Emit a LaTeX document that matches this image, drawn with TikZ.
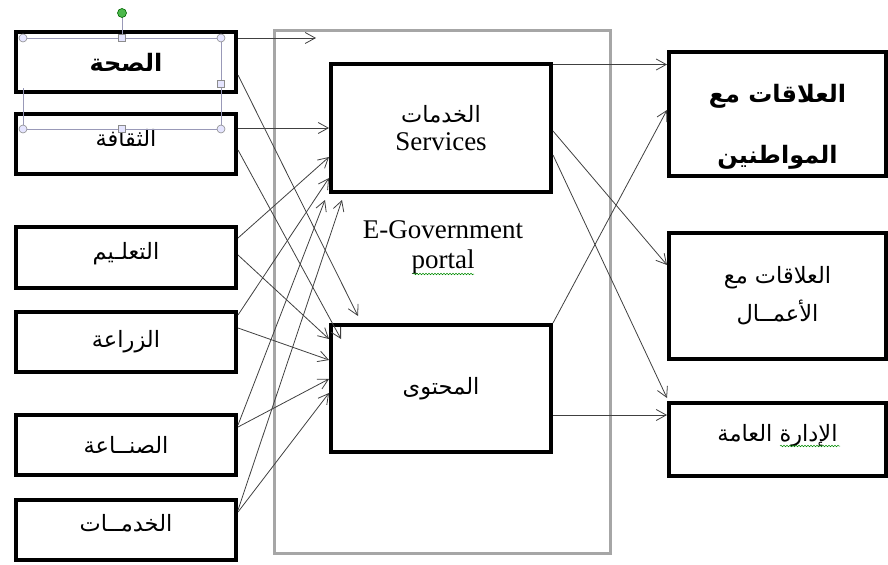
\documentclass[tikz,border=0pt]{standalone}
\usepackage{fontspec}
\setmainfont{Liberation Serif}
\newfontfamily\arabicfont[Script=Arabic]{DejaVu Sans}
\TeXXeTstate=1
\usetikzlibrary{arrows.meta,decorations.pathmorphing}
\newcommand{\artxt}[1]{{\arabicfont\beginR #1\endR}}
\newcommand{\arsize}{\fontsize{22.5bp}{26bp}\selectfont}
\newcommand{\arbold}{\fontsize{24bp}{28bp}\selectfont\bfseries}
\tikzset{
  box/.style={draw=black, line width=4bp, fill=white, inner sep=0pt, align=center},
  leftbox/.style={box, minimum width=220bp, minimum height=60bp, font=\arsize},
  raised/.style={text height=18bp, text depth=14bp},
  midbox/.style={box, minimum width=220bp, minimum height=128bp},
  rightbox/.style={box, minimum width=217bp},
  portalbox/.style={draw=black!35, line width=3bp, inner sep=0pt},
  arr/.style={draw=black!75, line width=0.8bp, -{Straight Barb[length=10bp,width=11bp,line width=0.8bp]}},
  handle/.style={draw=black!45, fill=blue!10, line width=0.6bp},
  selframe/.style={draw=blue!30!black!40, line width=0.8bp},
  squiggle/.style={draw=green!55!black, line width=0.5bp, decorate, decoration={snake, amplitude=0.8bp, segment length=3bp}}
}
\begin{document}
\begin{tikzpicture}[x=1bp,y=-1bp]
  \useasboundingbox (0,0) rectangle (888,565);
  % portal frame
  \node[portalbox, minimum width=336bp, minimum height=522bp] (portal) at (442,292) {};
  \node[font=\fontsize{27bp}{30bp}\selectfont, align=center] (egov) at (443,247) {E-Government\\portal};
  \draw[squiggle] (413,274) -- (474,274);

  % sectors
  \node[leftbox] (sahha) at (126,62.5) {\artxt{\arbold الصحة}};
  \node[leftbox, raised] (thaqafa) at (126,144.5) {\artxt{الثقافة}};
  \node[leftbox, raised] (taalim) at (126,257.5) {\artxt{التعلـيم}};
  \node[leftbox] (ziraa) at (126,341.5) {\artxt{الزراعة}};
  \node[leftbox] (sinaa) at (126,445) {\artxt{الصنــاعة}};
  \node[leftbox, raised] (khadamat) at (126,529.5) {\artxt{الخدمــات}};

  % selection frame
  \draw[selframe] (23,38) -- (221,38) -- (221,129) -- (23,129) -- (23,88);
  \draw[selframe] (122,13) -- (122,38);
  \foreach \hx/\hy in {23/38,221/38,23/129,221/129}
    \draw[handle] (\hx,\hy) circle (4bp);
  \foreach \hx/\hy in {122/38,221/84,122/129}
    \draw[handle] (\hx-3.5,\hy-3.5) rectangle (\hx+3.5,\hy+3.5);
  \draw[draw=green!40!black, fill=green!60!black!70!white, line width=0.6bp] (122,13) circle (4.5bp);

  % portal parts
  \node[midbox, font=\arsize] (services) at (441,128)
    {\artxt{الخدمات}\\[2bp]{\fontsize{27bp}{30bp}\selectfont Services}};
  \node[midbox, minimum height=127bp, font=\arsize] (content) at (441,388.5) {\artxt{المحتوى}};

  % relations
  \node[rightbox, minimum height=124bp, font=\arbold] (citizens) at (777.5,114)
    {\rule{0pt}{44bp}\artxt{العلاقات مع}\\[33bp]\artxt{المواطنين}};
  \node[rightbox, minimum height=126bp, font=\arsize] (business) at (777.5,296)
    {\artxt{العلاقات مع}\\[10bp]\artxt{الأعمــال}};
  \node[rightbox, minimum height=73bp, font=\arsize, raised] (admin) at (777.5,439.5) {\artxt{الإدارة العامة}};
  \draw[squiggle] (780,446) -- (840,446);

  % sectors to portal
  \coordinate (tip) at (316,38);
  \draw[arr] (sahha.east |- tip) -- (tip);
  \draw[arr] ([yshift=-12.5bp]sahha.east) -- ([shift={(29bp,7bp)}]content.north west);
  \draw[arr] (thaqafa.east |- services.west) -- (services.west);
  \draw[arr] ([yshift=-5.5bp]thaqafa.east) -- ([shift={(12bp,-16bp)}]content.north west);
  \draw[arr] ([yshift=19.5bp]taalim.east) -- ([yshift=-29bp]services.west);
  \draw[arr] ([yshift=2.5bp]taalim.east) -- ([yshift=49.5bp]content.west);
  \draw[arr] ([yshift=26.5bp]ziraa.east) -- ([yshift=-50bp]services.west);
  \draw[arr] ([yshift=13.5bp]ziraa.east) -- ([yshift=28.5bp]content.west);
  \draw[arr] ([yshift=20bp]sinaa.east) -- ([shift={(-4bp,-6bp)}]services.south west);
  \draw[arr] ([yshift=18bp]sinaa.east) -- ([yshift=9.5bp]content.west);
  \draw[arr] ([yshift=19.5bp]khadamat.east) -- ([shift={(13bp,-6bp)}]services.south west);
  \draw[arr] ([yshift=17.5bp]khadamat.east) -- ([yshift=-4.5bp]content.west);

  % portal to relations
  \coordinate (s1) at ([yshift=-2.5bp]services.north east);
  \draw[arr] (s1) -- (s1 -| citizens.west);
  \draw[arr] ([yshift=-3bp]services.east) -- ([yshift=31bp]business.west);
  \draw[arr] ([yshift=-27bp]services.east) -- ([yshift=3bp]admin.north west);
  \draw[arr] (content.north east) -- ([yshift=4bp]citizens.west);
  \coordinate (c1) at ([yshift=-26.5bp]content.east);
  \draw[arr] (c1) -- (c1 -| admin.west);
\end{tikzpicture}
\end{document}
